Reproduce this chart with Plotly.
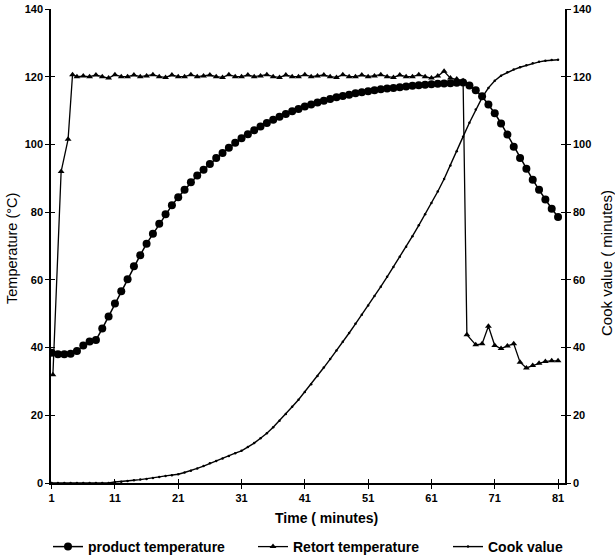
import plotly.graph_objects as go

time_min = list(range(1, 82))

product_temp = [
    38.5, 38.0, 38.0, 38.2, 39.0, 40.6, 41.8, 42.2, 45.6, 49.2,
    53.0, 56.6, 60.2, 64.0, 67.3, 70.7, 73.6, 76.6, 79.4, 82.0,
    84.4, 86.6, 88.8, 90.8, 92.5, 94.2, 96.0, 97.5, 99.0, 100.5,
    101.8, 103.0, 104.2, 105.3, 106.3, 107.3, 108.2, 109.0, 109.8, 110.5,
    111.2, 111.8, 112.4, 112.9, 113.4, 113.9, 114.3, 114.7, 115.1, 115.4,
    115.7, 116.0, 116.3, 116.5, 116.7, 116.9, 117.1, 117.3, 117.5, 117.6,
    117.8, 117.9, 118.0, 118.1, 118.2, 118.3, 117.4, 116.0, 114.2, 111.8,
    109.2, 106.2, 102.9, 99.3, 96.0, 92.8, 89.6, 86.6, 83.7, 81.0,
    78.6,
]

retort_time = [1.2, 2.5, 3.6, 4.3] + list(range(5, 67)) + [66.6] + list(range(68, 82))
retort_temp = [
    32.0, 92.0, 101.5, 120.6,
    120.0, 120.2, 120.0, 120.5, 120.0, 119.6, 120.6, 120.0, 120.0, 120.5,
    120.0, 120.2, 120.6, 120.0, 119.8, 120.5, 120.0, 120.0, 120.6, 120.0,
    120.2, 120.5, 120.0, 119.8, 120.6, 120.0, 120.0, 120.5, 120.0, 120.2,
    120.6, 120.0, 119.8, 120.5, 120.0, 120.0, 120.6, 120.0, 120.2, 120.5,
    120.0, 119.8, 120.6, 120.0, 120.0, 120.5, 120.0, 120.2, 120.6, 120.0,
    119.8, 120.5, 120.0, 120.0, 120.6, 120.0, 119.6, 120.2, 121.6, 119.6,
    119.3, 118.8,
    43.8, 40.8, 41.1, 46.3, 40.6, 39.7, 40.5, 41.1, 35.7, 34.0,
    34.7, 35.4, 35.9, 36.1, 36.1,
]

cook_value = [
    0, 0, 0, 0, 0, 0, 0, 0, 0, 0,
    0.3, 0.4, 0.6, 0.8, 1.0, 1.2, 1.5, 1.8, 2.1, 2.3,
    2.6, 3.1, 3.6, 4.3, 5.0, 5.8, 6.5, 7.2, 8.0, 8.8,
    9.5, 10.6, 11.8, 13.2, 14.7, 16.5, 18.4, 20.4, 22.5, 24.6,
    26.9, 29.2, 31.6, 34.1, 36.6, 39.1, 41.7, 44.3, 47.0, 49.7,
    52.4, 55.2, 58.0, 60.9, 63.8, 66.8, 69.8, 72.9, 76.1, 79.4,
    82.7, 86.1, 89.8, 93.8, 98.0, 102.3, 106.4, 110.3, 113.8, 116.7,
    118.8, 120.3, 121.3, 122.1, 122.8, 123.4, 124.0, 124.4, 124.7, 124.9,
    125.0,
]

x_ticks = [1, 11, 21, 31, 41, 51, 61, 71, 81]
y_ticks = [0, 20, 40, 60, 80, 100, 120, 140]

FONT = "Liberation Sans, Arial, sans-serif"
L, R, T, B = 51, 50, 9, 77
PW, PH = 615 - L - R, 560 - T - B

def px_x(p):
    return (p - L) / PW

def px_y(p):
    return (560 - B - p) / PH

fig = go.Figure()
fig.add_trace(go.Scatter(
    x=time_min, y=product_temp, name="product temperature", mode="lines+markers",
    line=dict(color="black", width=1.5),
    marker=dict(symbol="circle", size=8, color="black"), legend="legend",
))
fig.add_trace(go.Scatter(
    x=retort_time, y=retort_temp, name="Retort temperature", mode="lines+markers",
    line=dict(color="black", width=1.3),
    marker=dict(symbol="triangle-up", size=6, color="black"), legend="legend2",
))
fig.add_trace(go.Scatter(
    x=time_min, y=cook_value, name="Cook value", mode="lines+markers", yaxis="y2",
    line=dict(color="black", width=1.4),
    marker=dict(symbol="circle", size=2.5, color="black"), legend="legend3",
))
# helper traces so that the inner halves of the crossing ticks are drawn
fig.add_trace(go.Scatter(x=[None], y=[None], xaxis="x2", yaxis="y3",
                         showlegend=False, hoverinfo="skip"))
fig.add_trace(go.Scatter(x=[None], y=[None], xaxis="x2", yaxis="y4",
                         showlegend=False, hoverinfo="skip"))

tickfont = dict(family=FONT, size=11, color="black", weight="bold")
axis_common = dict(showgrid=False, zeroline=False, showline=True, linecolor="black",
                   linewidth=1.5, tickcolor="black", tickwidth=1.2, ticklen=4,
                   automargin=False)

def legend_at(xpx):
    return dict(orientation="h", x=px_x(xpx), xanchor="left", y=px_y(547), yanchor="middle",
                font=dict(family=FONT, size=14, weight="bold", color="black"),
                itemwidth=30, bgcolor="rgba(0,0,0,0)")

fig.update_layout(
    width=615, height=560,
    margin=dict(l=L, r=R, t=T, b=B, autoexpand=False),
    paper_bgcolor="white", plot_bgcolor="white",
    font=dict(family=FONT, color="black"),
    xaxis=dict(range=[0.9, 82.1], tickvals=x_ticks, ticks="outside", tickfont=tickfont,
               **axis_common),
    yaxis=dict(range=[0, 140], tickvals=y_ticks, ticks="outside", tickfont=tickfont,
               **axis_common),
    yaxis2=dict(range=[0, 140], tickvals=y_ticks, ticks="outside", tickfont=tickfont,
                overlaying="y", side="right", **axis_common),
    xaxis2=dict(range=[0.9, 82.1], tickvals=x_ticks, ticks="inside", overlaying="x",
                showticklabels=False, side="bottom", **axis_common),
    yaxis3=dict(range=[0, 140], tickvals=y_ticks, ticks="inside", overlaying="y",
                showticklabels=False, side="left", **axis_common),
    yaxis4=dict(range=[0, 140], tickvals=y_ticks, ticks="inside", overlaying="y",
                showticklabels=False, side="right", **axis_common),
    legend=legend_at(48),
    legend2=legend_at(253),
    legend3=legend_at(448),
    showlegend=True,
    annotations=[
        dict(text="Temperature (°C)", textangle=-90, xref="paper", yref="paper",
             x=px_x(12), y=px_y(249), xanchor="center", yanchor="middle",
             showarrow=False, font=dict(family=FONT, size=14.5, color="black")),
        dict(text="Cook value ( minutes)", textangle=-90, xref="paper", yref="paper",
             x=px_x(606), y=px_y(263), xanchor="center", yanchor="middle",
             showarrow=False, font=dict(family=FONT, size=15, color="black")),
        dict(text="Time ( minutes)", xref="paper", yref="paper",
             x=px_x(326), y=px_y(518), xanchor="center", yanchor="middle",
             showarrow=False, font=dict(family=FONT, size=14, color="black", weight="bold")),
    ],
)

fig.write_html("out.html", config={"displayModeBar": False},
               post_script="document.body.style.margin='0';document.body.style.overflow='hidden';")
